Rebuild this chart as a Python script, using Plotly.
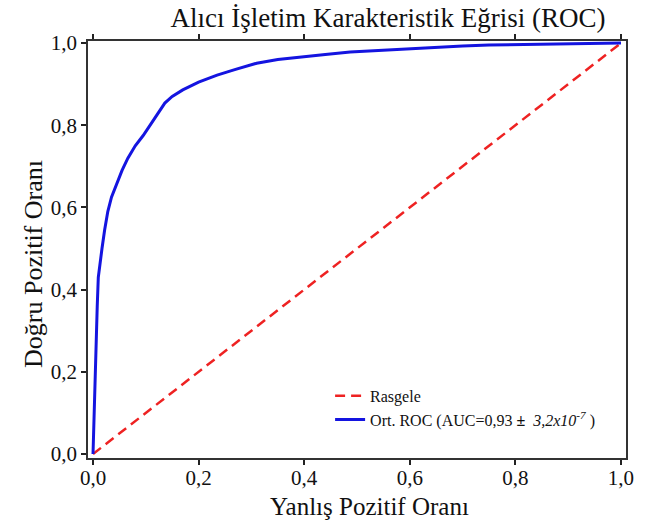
import plotly.graph_objects as go

# ---- data ----
roc_fpr = [0, 0.002, 0.004, 0.006, 0.008, 0.010, 0.013, 0.017, 0.022, 0.028, 0.035,
           0.045, 0.055, 0.066, 0.08, 0.095, 0.108, 0.12, 0.136, 0.15, 0.17, 0.2,
           0.235, 0.27, 0.31, 0.35, 0.39, 0.44, 0.487, 0.53, 0.58, 0.65, 0.7, 0.75,
           0.8, 0.85, 0.9, 0.95, 1.0]
roc_tpr = [0, 0.10, 0.20, 0.29, 0.36, 0.43, 0.465, 0.50, 0.545, 0.59, 0.625,
           0.66, 0.69, 0.72, 0.75, 0.775, 0.80, 0.82, 0.854, 0.87, 0.886, 0.905,
           0.922, 0.936, 0.951, 0.96, 0.966, 0.972, 0.978, 0.981, 0.985, 0.99, 0.993, 0.995,
           0.996, 0.997, 0.998, 0.999, 1.0]
rand_x = [0, 1]
rand_y = [0, 1]
tick_vals = [0, 0.2, 0.4, 0.6, 0.8, 1.0]
tick_text = ["0,0", "0,2", "0,4", "0,6", "0,8", "1,0"]

title_text = "Alıcı İşletim Karakteristik Eğrisi (ROC)"
xlabel = "Yanlış Pozitif Oranı"
ylabel = "Doğru Pozitif Oranı"
name_rand = "Rasgele"
name_roc = "Ort. ROC (AUC=0,93 <b>±</b>  <i>3,2x10<sup>-7</sup></i> )"

FONT = "Liberation Serif, Times New Roman, serif"

fig = go.Figure()
fig.add_trace(go.Scatter(x=rand_x, y=rand_y, mode="lines", name=name_rand,
                         line=dict(color="#ee2222", width=2.5, dash="10px,6px")))
fig.add_trace(go.Scatter(x=roc_fpr, y=roc_tpr, mode="lines", name=name_roc,
                         line=dict(color="#1414e0", width=3)))

axis_common = dict(
    tickvals=tick_vals, ticktext=tick_text, ticks="outside", ticklen=5,
    tickcolor="#222", tickwidth=1.5, showgrid=False, zeroline=False,
    showline=True, linecolor="#333", linewidth=1.5,
    tickfont=dict(family=FONT, size=21, color="#111"),
)

fig.update_xaxes(range=[-0.0095, 1.0095], mirror="ticks", ticklabelstandoff=-5,
                 **axis_common)
fig.update_yaxes(range=[-0.0097, 1.005], mirror=True, **axis_common)

fig.update_layout(
    width=660, height=527,
    margin=dict(l=88, r=34, t=41, b=69),
    paper_bgcolor="white", plot_bgcolor="white",
    font=dict(family=FONT, color="#111"),
    title=dict(text=title_text, xref="container", yref="container",
               x=388 / 660, y=1 - 18 / 527, xanchor="center", yanchor="middle",
               font=dict(family=FONT, size=27, color="#111")),
    showlegend=True,
    legend=dict(x=0.45, y=0.19, xanchor="left", yanchor="top",
                bgcolor="rgba(0,0,0,0)", borderwidth=0,
                font=dict(family=FONT, size=16, color="#111"),
                tracegroupgap=0),
    annotations=[
        dict(text=xlabel, xref="paper", yref="paper",
             x=(369 - 88) / 538, y=-(506 - 458) / 417,
             xanchor="center", yanchor="middle", showarrow=False,
             font=dict(family=FONT, size=25, color="#111")),
        dict(text=ylabel, xref="paper", yref="paper",
             x=-(88 - 33) / 538, y=(458 - 264) / 417,
             xanchor="center", yanchor="middle", showarrow=False, textangle=-90,
             font=dict(family=FONT, size=26, color="#111")),
    ],
)

fig.write_html("out.html", config={"displayModeBar": False},
               post_script="document.body.style.margin='0';document.body.style.padding='0';")
